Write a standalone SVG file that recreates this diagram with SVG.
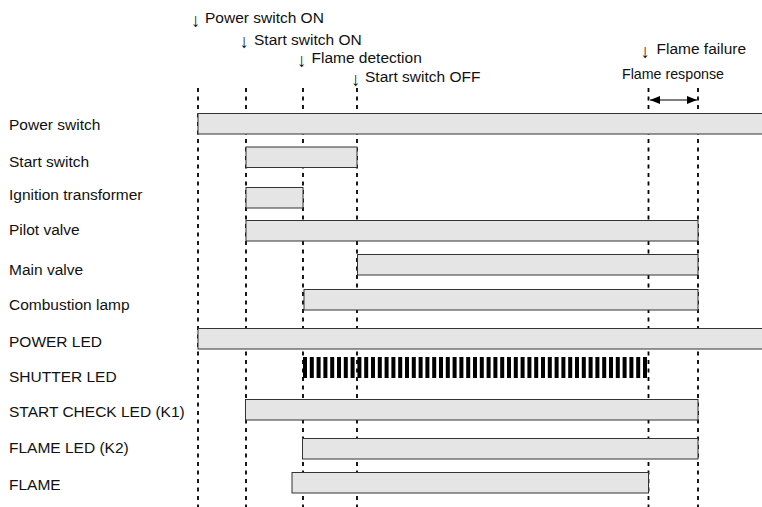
<svg xmlns="http://www.w3.org/2000/svg" width="762" height="507" viewBox="0 0 762 507">
<style>
text{font-family:"Liberation Sans",Arial,Helvetica,sans-serif;font-size:15.5px;fill:#111}
.bar{fill:#e5e5e5;stroke:#333;stroke-width:1}
.guide{stroke:#000;stroke-width:1.8;stroke-dasharray:4 4.5;fill:none}
.arw{font-size:19px}
</style>
<defs>
<marker id="ah" viewBox="0 0 10 8" refX="10" refY="4" markerWidth="10" markerHeight="8" markerUnits="userSpaceOnUse" orient="auto-start-reverse">
<path d="M0,0 L10,4 L0,8 z" fill="#000"/>
</marker>
</defs>
<rect width="762" height="507" fill="#fff"/>

<g id="connectors">
<line class="guide" x1="198" y1="88" x2="198" y2="507"/>
<line class="guide" x1="246" y1="88" x2="246" y2="507"/>
<line class="guide" x1="303" y1="88" x2="303" y2="507"/>
<line class="guide" x1="357" y1="88" x2="357" y2="507"/>
<line class="guide" x1="648.5" y1="88" x2="648.5" y2="507"/>
<line class="guide" x1="698" y1="88" x2="698" y2="507"/>
<line x1="650" y1="100" x2="697" y2="100" stroke="#000" stroke-width="1.2" marker-start="url(#ah)" marker-end="url(#ah)"/>
</g>

<g id="events">
<text x="191" y="26.5" class="arw">↓</text><text x="205" y="23">Power switch ON</text>
<text x="239.5" y="48" class="arw">↓</text><text x="254" y="44.5">Start switch ON</text>
<text x="297" y="66.5" class="arw">↓</text><text x="311.5" y="63">Flame detection</text>
<text x="351" y="85.5" class="arw">↓</text><text x="365" y="82">Start switch OFF</text>
<text x="640.5" y="57.5" class="arw">↓</text><text x="656.5" y="54">Flame failure</text>
<text x="622" y="78.5" textLength="102" lengthAdjust="spacingAndGlyphs" style="font-size:14.5px">Flame response</text>
</g>

<g id="power-switch"><text x="9" y="130">Power switch</text><rect class="bar" x="198" y="113.5" width="566" height="20.5"/></g>
<g id="start-switch"><text x="9" y="166.5">Start switch</text><rect class="bar" x="246" y="147" width="111" height="20.5"/></g>
<g id="ignition-transformer"><text x="9" y="200">Ignition transformer</text><rect class="bar" x="246" y="187.5" width="57" height="20.5"/></g>
<g id="pilot-valve"><text x="9" y="235">Pilot valve</text><rect class="bar" x="246" y="220.5" width="452" height="20.5"/></g>
<g id="main-valve"><text x="9" y="275">Main valve</text><rect class="bar" x="357.5" y="254.5" width="340.5" height="20.5"/></g>
<g id="combustion-lamp"><text x="9" y="310">Combustion lamp</text><rect class="bar" x="304" y="289.5" width="394" height="20.5"/></g>
<g id="power-led"><text x="9" y="347">POWER LED</text><rect class="bar" x="198" y="328.5" width="566" height="20.5"/></g>
<g id="shutter-led"><text x="9" y="382">SHUTTER LED</text><line x1="303" y1="367.5" x2="649" y2="367.5" stroke="#000" stroke-width="21" stroke-dasharray="4 2.8"/></g>
<g id="start-check-led"><text x="9" y="417">START CHECK LED (K1)</text><rect class="bar" x="245.5" y="399.5" width="452.5" height="20.5"/></g>
<g id="flame-led"><text x="9" y="453">FLAME LED (K2)</text><rect class="bar" x="302.5" y="438.5" width="395.5" height="20.5"/></g>
<g id="flame"><text x="9" y="490">FLAME</text><rect class="bar" x="292" y="472.5" width="356.5" height="20.5"/></g>
</svg>
